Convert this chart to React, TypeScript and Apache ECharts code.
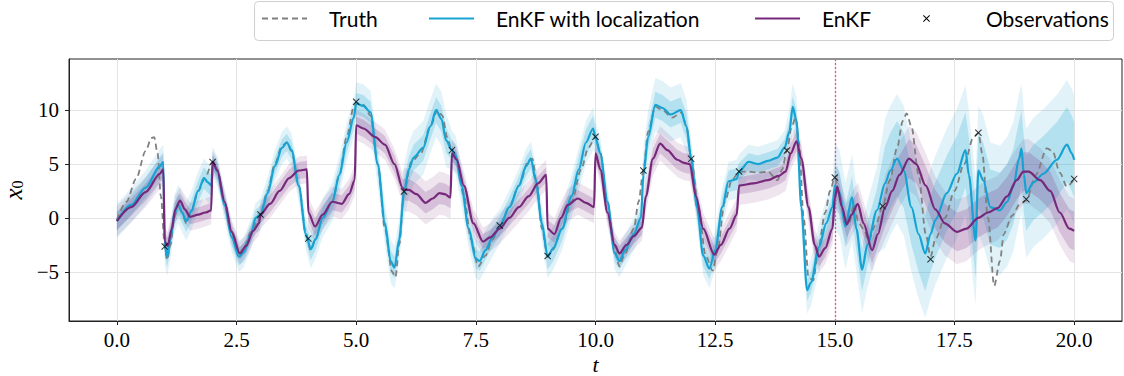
import React, { useEffect, useRef } from "react";
import * as echarts from "echarts";

// ---------- data ----------
const obsT = [1, 2, 3, 4, 5, 6, 7, 8, 9, 10, 11, 12, 13, 14, 15, 16, 17, 18, 19, 20];
const obsV = [-2.65, 5.18, 0.31, -1.92, 10.78, 2.45, 6.29, -0.71, -3.53, 7.53, 4.4, 5.48, 4.31, 6.26, 3.75, 1.09, -3.84, 7.9, 1.74, 3.62];

const truth: number[][] = [
  [0, -0.2], [0.2, 1.5], [0.4, 3.6], [0.6, 6.2], [0.72, 7.4], [0.78, 7.5], [0.85, 6], [0.92, 2], [1.0, -2.6], [1.05, -3.9], [1.12, -2.5], [1.2, 0], [1.28, 1.3], [1.36, 0.5], [1.45, -0.5], [1.55, 0.5], [1.7, 2.5], [1.85, 3.8], [2.0, 5.2],
  [2.1, 4.5], [2.25, 1.5], [2.4, -1.5], [2.55, -3.3], [2.65, -2.8], [2.8, -1.3], [3.0, 0.3], [3.15, 2.5], [3.3, 5], [3.45, 6.7], [3.55, 7.0], [3.65, 6.2], [3.8, 3], [3.95, -1.5], [4.05, -3.0], [4.15, -2], [4.3, 0], [4.5, 1.5], [4.65, 4], [4.8, 7.5], [4.95, 10.3], [5.0, 10.7],
  [5.15, 10.5], [5.3, 9.5], [5.45, 5], [5.6, -1], [5.75, -5], [5.82, -5.5], [5.9, -2.5], [6.0, 2.4], [6.15, 5.2], [6.35, 6], [6.55, 8.5], [6.7, 10], [6.8, 9.5], [6.9, 7.5], [7.0, 6.3], [7.1, 5.5], [7.25, 2], [7.4, -2], [7.55, -4.5], [7.7, -3.5], [7.85, -2], [8.0, -0.7],
  [8.2, 1], [8.4, 3], [8.6, 5.3], [8.68, 5.5], [8.78, 3], [8.88, -1], [9.0, -3.5], [9.1, -3], [9.3, -1], [9.5, 1.5], [9.7, 4.5], [9.85, 6.5], [10.0, 7.5], [10.1, 6], [10.25, 1.5], [10.4, -3], [10.5, -4.5], [10.6, -3.5], [10.8, -1], [10.9, 1.5], [11.0, 4.4],
  [11.1, 8], [11.25, 10.3], [11.4, 10], [11.6, 9.3], [11.8, 9.8], [11.9, 8.5], [12.0, 5.5], [12.15, 1], [12.3, -3.5], [12.45, -4.9], [12.55, -3], [12.7, 1.5], [12.85, 3.5], [13.0, 4.3], [13.2, 4.3], [13.4, 4.2], [13.6, 4.3], [13.8, 3.5], [13.9, 4.5], [14.0, 6.3],
  [14.1, 8.5], [14.18, 9.3], [14.25, 7], [14.35, 0], [14.45, -5.5], [14.55, -5.8], [14.65, -3], [14.8, 0.5], [14.9, 2.5], [15.0, 3.75], [15.1, 2], [15.2, 0], [15.3, -0.5], [15.4, 1.3], [15.5, -0.5], [15.6, -1], [15.7, -2.1], [15.85, -0.7], [16.0, 1.1],
  [16.15, 3.5], [16.3, 6.5], [16.42, 9], [16.5, 9.7], [16.6, 8.5], [16.75, 4], [16.9, -1.5], [17.0, -3.6], [17.1, -2], [17.3, 0], [17.5, 2.5], [17.7, 5], [17.9, 7.5], [18.0, 7.9], [18.08, 6], [18.2, 0], [18.33, -6.3], [18.45, -4], [18.53, -1.5], [18.7, 0.2], [18.87, 1.3],
  [19.0, 1.6], [19.2, 4], [19.43, 6.45], [19.55, 6.2], [19.7, 4.2], [19.85, 2.9], [20.0, 3.6],
];

const enkfLoc: number[][] = [
  [0, -0.3], [0.3, 1.2], [0.6, 2.8], [0.9, 4.8], [0.97, 5.2], [1.0, -2.5], [1.05, -3.6], [1.12, -2], [1.2, 0.3], [1.28, 1.3], [1.36, 0.5], [1.45, -0.3], [1.55, 0.6], [1.7, 2.5], [1.82, 3.7], [1.9, 3.3], [1.98, 3], [2.0, 5.2],
  [2.1, 4.3], [2.25, 1.2], [2.4, -1.8], [2.55, -3.6], [2.65, -3.2], [2.8, -1.5], [2.9, 0], [3.0, 0.3], [3.15, 2.3], [3.3, 4.8], [3.45, 6.5], [3.55, 7.0], [3.65, 6.3], [3.8, 3], [3.95, -1.5], [4.05, -2.9], [4.15, -2], [4.3, 0], [4.5, 1.5], [4.65, 4], [4.8, 7], [4.95, 9.3], [5.0, 10.6],
  [5.15, 10.4], [5.3, 9.8], [5.45, 5], [5.6, -0.5], [5.72, -4], [5.8, -4.6], [5.9, -2], [6.0, 2.4], [6.1, 4.5], [6.2, 5.6], [6.4, 6.5], [6.55, 8.5], [6.67, 10], [6.78, 9.2], [6.88, 7.2], [7.0, 6.3], [7.08, 5.8], [7.2, 3], [7.35, -1], [7.5, -3.8], [7.58, -4], [7.7, -3], [7.85, -1.8], [8.0, -0.8],
  [8.2, 1], [8.4, 3], [8.55, 4.8], [8.65, 5.5], [8.75, 3.5], [8.88, -0.5], [9.0, -3.6], [9.12, -2.8], [9.3, -1], [9.5, 2], [9.65, 4.5], [9.8, 7], [9.95, 8.3], [10.0, 7.4], [10.1, 6], [10.25, 1.5], [10.4, -3.3], [10.5, -4], [10.62, -3], [10.8, -1.5], [10.95, 0], [11.0, 4],
  [11.1, 7.5], [11.25, 10.5], [11.4, 10.2], [11.57, 9.6], [11.78, 10], [11.9, 8.5], [12.0, 5.5], [12.12, 1], [12.25, -3.5], [12.38, -4.7], [12.5, -3], [12.65, 1], [12.78, 3.4], [12.95, 3.6], [13.0, 4.3], [13.2, 5.2], [13.4, 5.0], [13.6, 5.3], [13.8, 5.6], [13.95, 6.5],
  [14.05, 8], [14.12, 10.3], [14.2, 9], [14.3, 1], [14.42, -6.7], [14.5, -6], [14.67, -2.7], [14.82, -0.5], [14.95, 1], [15.0, 3], [15.1, 2.3], [15.22, -0.8], [15.36, 1.9], [15.45, -1], [15.57, -4.8], [15.68, -2.5], [15.88, 0.7], [16.05, 3.2], [16.16, 4.4], [16.3, 5.5],
  [16.44, 4.4], [16.6, 1], [16.75, -1.5], [16.89, -3.3], [17.0, -1.5], [17.1, -0.2], [17.34, 2.3], [17.55, 4.1], [17.73, 6.3], [17.8, 4], [17.94, -2.1], [18.0, 4.4], [18.1, 3.5], [18.25, 1.0], [18.45, 0.7], [18.6, 1.5], [18.73, 2.9], [18.85, 5.5], [18.9, 6.45], [18.95, 4],
  [19.0, 2.3], [19.15, 3.3], [19.36, 4.1], [19.64, 5.4], [19.85, 6.8], [19.95, 6], [20.0, 5.4],
];

const enkf: number[][] = [
  [0, -0.3], [0.3, 1.0], [0.6, 2.4], [0.9, 4.1], [0.97, 4.5], [1.0, -2.2], [1.06, -2.6], [1.15, -1], [1.22, 0.8], [1.32, 1.6], [1.42, 0.8], [1.53, 0.1], [1.7, 0.3], [1.85, 0.5], [1.97, 0.7], [2.0, 5.2],
  [2.1, 4.4], [2.25, 1.5], [2.4, -1.3], [2.57, -3.3], [2.7, -2.6], [2.85, -1.2], [2.97, -0.5], [3.0, 0.3], [3.2, 1.3], [3.4, 2.5], [3.6, 3.7], [3.8, 4.4], [3.97, 4.5], [4.0, 0.5], [4.14, -0.8], [4.3, 0.3], [4.5, 1.5], [4.7, 1.3], [4.85, 2.2], [4.97, 3.5], [5.0, 8.6],
  [5.15, 8.3], [5.4, 7.5], [5.6, 6.8], [5.8, 5.0], [5.97, 2.8], [6.0, 2.6], [6.1, 2.6], [6.26, 2.2], [6.45, 1.4], [6.6, 1.8], [6.74, 2.3], [6.85, 2.2], [6.97, 1.9], [7.0, 6.0], [7.1, 5.4], [7.25, 3], [7.45, -0.5], [7.65, -2.2], [7.8, -1.8], [8.0, -1.0],
  [8.2, 0], [8.4, 1], [8.6, 2], [8.8, 3.2], [8.97, 4.0], [9.0, -1], [9.14, -1.5], [9.28, 0], [9.42, 1.2], [9.63, 1.8], [9.8, 1.4], [9.97, 1.0], [10.0, 6.0], [10.1, 4.5], [10.25, 0.5], [10.4, -2.5], [10.5, -3.3], [10.65, -2.5], [10.8, -1.7], [10.97, -0.9],
  [11.05, 2], [11.2, 5.5], [11.35, 6.9], [11.5, 6.3], [11.71, 5.4], [11.85, 5.1], [11.97, 5.0], [12.1, 2], [12.25, -1], [12.48, -3.4], [12.62, -2.5], [12.8, -1], [12.95, 0.3], [13.0, 3.0], [13.3, 3.2], [13.6, 3.5], [13.83, 3.9], [13.97, 4.3],
  [14.08, 6], [14.2, 7.1], [14.3, 5.5], [14.45, 1], [14.58, -2.5], [14.67, -3.6], [14.8, -2.8], [14.95, -1], [15.0, 1.8], [15.05, 2.9], [15.15, 1], [15.25, -0.6], [15.35, 0.3], [15.48, 1.3], [15.6, -0.5], [15.78, -3.0], [15.9, -1.5], [16.05, 1],
  [16.2, 2.5], [16.35, 4], [16.55, 5.5], [16.7, 5.0], [16.9, 3], [17.1, 0.8], [17.3, -0.5], [17.55, -1.3], [17.75, -1], [18.0, 0], [18.2, 0.5], [18.4, 0.9], [18.6, 2.0], [18.8, 3.5], [18.94, 4.3], [19.05, 4.3], [19.29, 3.5], [19.5, 2.5], [19.7, 0.5], [19.9, -1.0], [20.0, -1.2],
];

// ensemble half-spread per assimilation window (t in [k, k+1))
const locSpreadInner = [0.9, 1.0, 0.8, 0.8, 1.0, 1.0, 1.2, 0.9, 0.9, 1.2, 0.8, 1.2, 1.0, 0.8, 1.0, 2.0, 3.5, 3.5, 3.5, 3.5];
const locSpreadOuter = [1.6, 1.8, 1.4, 1.5, 1.8, 2.0, 2.5, 1.8, 1.6, 2.0, 1.5, 2.5, 1.8, 1.6, 2.2, 4.0, 6.0, 6.0, 6.0, 6.0];
const enkfSpreadInner = [0.8, 0.7, 0.6, 0.8, 0.8, 0.8, 1.0, 0.7, 0.7, 0.8, 0.7, 0.9, 0.8, 0.8, 0.9, 1.2, 1.8, 1.8, 1.8, 1.8];
const enkfSpreadOuter = [1.4, 1.3, 1.1, 1.3, 1.4, 1.4, 2.0, 1.3, 1.4, 1.5, 1.2, 1.6, 1.5, 1.8, 1.5, 2.0, 3.0, 3.0, 3.0, 3.0];

const xTicks = [0, 2.5, 5, 7.5, 10, 12.5, 15, 17.5, 20];
const yTicks = [-5, 0, 5, 10];
const forecastStart = 15;

const legendNames = ["Truth", "EnKF with localization", "EnKF", "Observations"];
const legendLefts = [261, 428, 754, 923];

const CYAN = "#16a3d3";
const PURPLE = "#76287b";

const X_ICON = "path://M0,1L1,0L5,4L9,0L10,1L6,5L10,9L9,10L5,6L1,10L0,9L4,5Z";

function band(pts: number[][], spread: number[], fill: string, z: number) {
  return {
    type: "custom",
    silent: true,
    z,
    clip: true,
    data: pts,
    encode: { x: 0, y: 1 },
    renderItem: (params: any, api: any) => {
      if (params.dataIndex !== 0) return null;
      const w = (t: number) => spread[Math.min(spread.length - 1, Math.floor(t))];
      const up = pts.map(([t, v]) => api.coord([t, v + w(t)]));
      const lo = pts.map(([t, v]) => api.coord([t, v - w(t)])).reverse();
      return {
        type: "polygon",
        shape: { points: up.concat(lo) },
        style: { fill, stroke: "none" },
      };
    },
  };
}

export default function App() {
  const ref = useRef<HTMLDivElement>(null);
  useEffect(() => {
    if (!ref.current) return;
    const chart = echarts.init(ref.current, undefined, { renderer: "svg" });
    const serif = "Liberation Serif";
    const sans = "Lato";
    const legends = legendNames.map((name, i) => ({
      data: [i === 3 ? { name, icon: X_ICON, itemStyle: { opacity: 1 } } : { name }],
      left: legendLefts[i],
      top: 8,
      padding: 0,
      itemWidth: 45,
      itemHeight: 7,
      itemStyle: { opacity: i === 3 ? 1 : 0 },
      textStyle: {
        fontFamily: sans, fontSize: 21, color: "#000",
        padding: [0, 0, 0, i === 3 ? 32 : 17],
      },
    }));
    chart.setOption({
      animation: false,
      backgroundColor: "#ffffff",
      grid: {
        left: 69, right: 2, top: 59, bottom: 55,
        outerBoundsMode: "none", containLabel: false,
        show: true, borderColor: "#222", borderWidth: 1,
      },
      legend: legends,
      graphic: [
        {
          type: "rect",
          left: 254,
          top: 1,
          shape: { width: 859, height: 39, r: 4 },
          style: { fill: "rgba(255,255,255,0.8)", stroke: "#cfcfcf", lineWidth: 1 },
          z: -1,
        },
      ],
      xAxis: {
        type: "value",
        min: -1,
        max: 21,
        name: "t",
        nameLocation: "middle",
        nameGap: 34,
        nameMoveOverlap: false,
        nameTextStyle: {
          fontFamily: serif, fontStyle: "italic", fontSize: 22, lineHeight: 18,
          color: "#000", verticalAlign: "top",
        },
        axisLine: { show: true, onZero: false, lineStyle: { color: "#222" } },
        axisTick: { show: true, length: 4, customValues: xTicks, lineStyle: { color: "#222" } },
        axisLabel: {
          customValues: xTicks,
          formatter: (v: number) => v.toFixed(1),
          fontFamily: serif,
          fontSize: 21,
          color: "#000",
          margin: 8,
        },
        splitLine: { show: true, lineStyle: { color: "#e4e4e4", width: 1 } },
      },
      yAxis: {
        type: "value",
        min: -9.57,
        max: 14.75,
        name: "{i|x}{s|0}",
        nameLocation: "middle",
        nameGap: 35,
        nameRotate: 90,
        nameTextStyle: {
          rich: {
            i: { fontFamily: serif, fontStyle: "italic", fontSize: 25, lineHeight: 24, color: "#000" },
            s: { fontFamily: serif, fontSize: 16, lineHeight: 24, color: "#000", padding: [8, 0, 0, 0] },
          },
        },
        axisLine: { show: true, onZero: false, lineStyle: { color: "#222" } },
        axisTick: { show: true, length: 4, customValues: yTicks, lineStyle: { color: "#222" } },
        axisLabel: {
          customValues: yTicks,
          formatter: (v: number) => (v < 0 ? "\u2212" + Math.abs(v) : String(v)),
          fontFamily: serif,
          fontSize: 21,
          color: "#000",
          margin: 10,
        },
        splitLine: { show: true, lineStyle: { color: "#e4e4e4", width: 1 } },
      },
      series: [
        band(enkfLoc, locSpreadOuter, "rgba(22,163,211,0.13)", 1),
        band(enkf, enkfSpreadOuter, "rgba(118,40,123,0.12)", 1),
        band(enkfLoc, locSpreadInner, "rgba(22,163,211,0.22)", 2),
        band(enkf, enkfSpreadInner, "rgba(118,40,123,0.2)", 2),
        {
          name: "Truth",
          type: "line",
          data: truth,
          symbol: "none",
          smooth: 0.3,
          smoothMonotone: "x",
          z: 3,
          lineStyle: { color: "#808080", width: 1.8, type: [6, 4] },
          itemStyle: { color: "#808080" },
        },
        {
          name: "EnKF with localization",
          type: "line",
          data: enkfLoc,
          symbol: "none",
          smooth: 0.3,
          smoothMonotone: "x",
          z: 4,
          lineStyle: { color: CYAN, width: 2.2 },
          itemStyle: { color: CYAN },
          markLine: {
            silent: true,
            symbol: "none",
            label: { show: false },
            lineStyle: { color: "#e8538a", type: [2, 2], width: 1.3 },
            data: [{ xAxis: forecastStart }],
          },
        },
        {
          name: "EnKF",
          type: "line",
          data: enkf,
          symbol: "none",
          smooth: 0.3,
          smoothMonotone: "x",
          z: 5,
          lineStyle: { color: PURPLE, width: 2.2 },
          itemStyle: { color: PURPLE },
        },
        {
          name: "Observations",
          type: "scatter",
          data: obsT.map((t, i) => [t, obsV[i]]),
          symbol: X_ICON,
          symbolSize: 7,
          symbolKeepAspect: true,
          z: 6,
          itemStyle: { color: "#000" },
        },
      ],
    });
    return () => chart.dispose();
  }, []);
  return (
    <div
      ref={ref}
      style={{ position: "fixed", left: 0, top: 0, width: 1124, height: 376, background: "#fff" }}
    />
  );
}
